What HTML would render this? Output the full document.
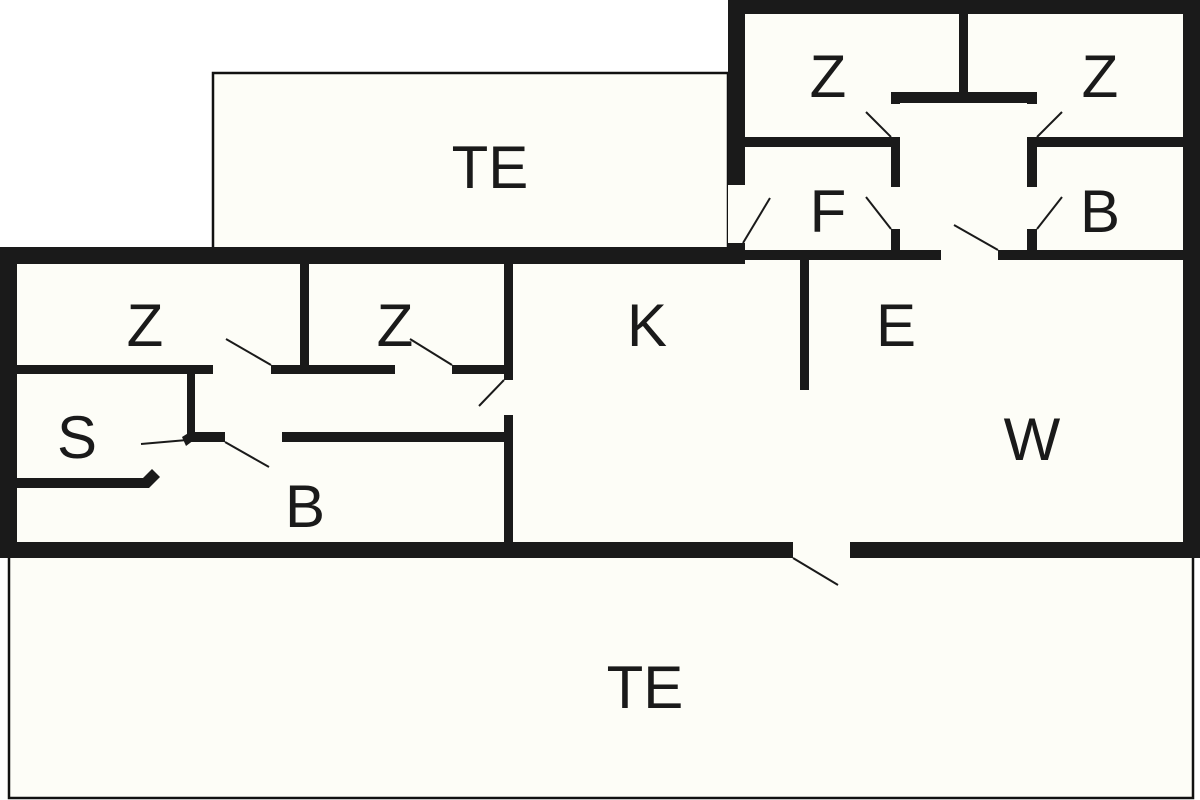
<!DOCTYPE html>
<html><head><meta charset="utf-8"><style>html,body{margin:0;padding:0;background:#fff}svg{display:block}</style></head>
<body>
<svg width="1200" height="800" viewBox="0 0 1200 800" xmlns="http://www.w3.org/2000/svg">
<rect width="1200" height="800" fill="#fff"/>
<!-- terraces -->
<rect x="213" y="73" width="515" height="176" fill="#fdfdf7" stroke="#111" stroke-width="2.5"/>
<rect x="9" y="556" width="1184" height="242" fill="#fdfdf7" stroke="#111" stroke-width="2.5"/>
<!-- house fill -->
<rect x="0" y="247" width="1200" height="311" fill="#fdfdf7"/>
<rect x="728" y="0" width="472" height="262" fill="#fdfdf7"/>
<g fill="#1a1a1a">
<!-- outer walls -->
<rect x="0" y="247" width="745" height="17"/>
<rect x="0" y="247" width="17" height="311"/>
<rect x="0" y="542" width="793" height="16"/>
<rect x="850" y="542" width="350" height="16"/>
<rect x="1183" y="0" width="17" height="558"/>
<rect x="728" y="0" width="472" height="14"/>
<rect x="728" y="0" width="17" height="185"/>
<rect x="728" y="243" width="17" height="19"/>
<!-- upper block interior -->
<rect x="745" y="137" width="155" height="10"/>
<rect x="1037" y="137" width="146" height="10"/>
<rect x="959" y="14" width="9" height="88"/>
<rect x="891" y="92" width="146" height="11"/>
<rect x="891" y="92" width="9" height="12"/>
<rect x="1027" y="92" width="10" height="12"/>
<rect x="891" y="137" width="9" height="50"/>
<rect x="891" y="229" width="9" height="31"/>
<rect x="1027" y="137" width="10" height="50"/>
<rect x="1027" y="229" width="10" height="31"/>
<rect x="745" y="250" width="196" height="10"/>
<rect x="998" y="250" width="185" height="10"/>
<rect x="800" y="260" width="9" height="130"/>
<!-- left block interior -->
<rect x="17" y="365" width="196" height="9"/>
<rect x="271" y="365" width="124" height="9"/>
<rect x="452" y="365" width="61" height="9"/>
<rect x="300" y="264" width="9" height="101"/>
<rect x="504" y="264" width="9" height="116"/>
<rect x="504" y="415" width="9" height="128"/>
<rect x="187" y="374" width="8" height="66"/>
<rect x="187" y="432" width="38" height="10"/>
<rect x="282" y="432" width="231" height="10"/>
<rect x="17" y="478" width="128" height="10"/>
<polygon points="143,478 152,469 160,477 149,488 143,488"/>
<polygon points="182,437 190,432 194,440 186,446"/>
</g>
<g stroke="#1a1a1a" stroke-width="2" fill="none">
<line x1="891" y1="137" x2="866" y2="112"/>
<line x1="1037" y1="137" x2="1062" y2="112"/>
<line x1="891" y1="229" x2="866" y2="197"/>
<line x1="1037" y1="229" x2="1062" y2="197"/>
<line x1="998" y1="250" x2="954" y2="225"/>
<line x1="743" y1="243" x2="770" y2="198"/>
<line x1="271" y1="365" x2="226" y2="339"/>
<line x1="452" y1="365" x2="410" y2="339"/>
<line x1="504" y1="380" x2="479" y2="406"/>
<line x1="225" y1="442" x2="269" y2="467"/>
<line x1="187" y1="440" x2="141" y2="444"/>
<line x1="793" y1="558" x2="838" y2="585"/>
</g>
<g font-family="Liberation Sans, sans-serif" font-size="60" fill="#1a1a1a" text-anchor="middle">
<text x="490" y="188">TE</text>
<text x="828" y="97">Z</text>
<text x="1100" y="97">Z</text>
<text x="828" y="232">F</text>
<text x="1100" y="232">B</text>
<text x="145" y="346">Z</text>
<text x="395" y="346">Z</text>
<text x="647" y="346">K</text>
<text x="896" y="346">E</text>
<text x="77" y="458">S</text>
<text x="1032" y="460">W</text>
<text x="305" y="527">B</text>
<text x="645" y="708">TE</text>
</g>
</svg>
</body></html>
